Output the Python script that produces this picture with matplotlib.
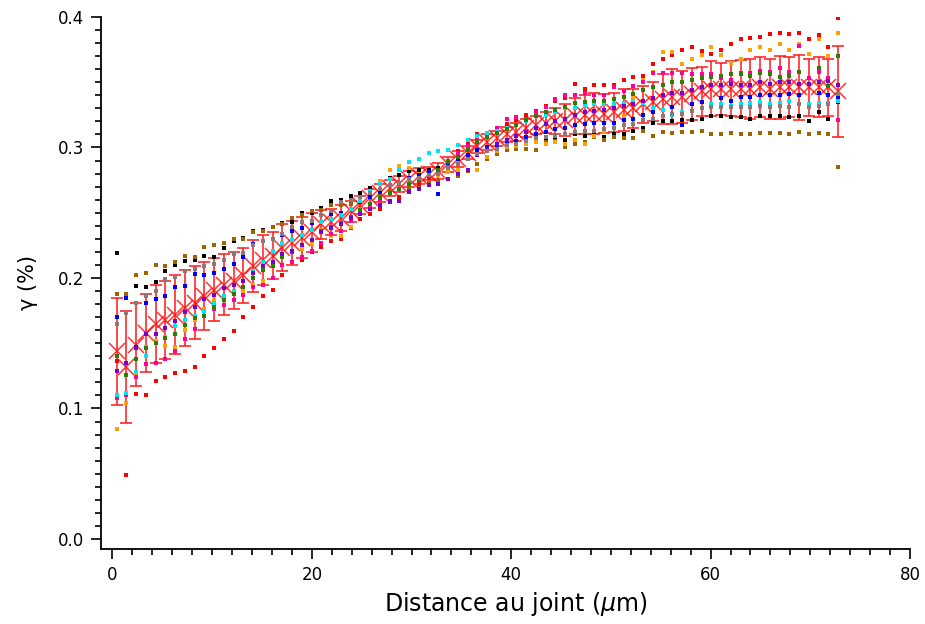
import numpy as np
import matplotlib
matplotlib.use("Agg")
import matplotlib.pyplot as plt
from matplotlib.ticker import MultipleLocator

# distance grid (um), one point per profile step
x = np.linspace(0.42, 72.8, 75)

# mean profile and its standard deviation
mean = [0.144, 0.132, 0.149, 0.158, 0.165, 0.168, 0.172, 0.177, 0.181, 0.186,
        0.191, 0.195, 0.198, 0.202, 0.209, 0.214, 0.217, 0.223, 0.227, 0.231,
        0.235, 0.241, 0.243, 0.246, 0.251, 0.256, 0.261, 0.265, 0.269, 0.272,
        0.276, 0.278, 0.280, 0.282, 0.287, 0.291, 0.296, 0.301, 0.304, 0.307,
        0.310, 0.312, 0.315, 0.317, 0.319, 0.320, 0.321, 0.324, 0.325, 0.326,
        0.326, 0.327, 0.329, 0.330, 0.333, 0.335, 0.337, 0.339, 0.339, 0.341,
        0.343, 0.345, 0.345, 0.345, 0.345, 0.345, 0.346, 0.345, 0.346, 0.346,
        0.346, 0.346, 0.346, 0.346, 0.343]
std = [0.041, 0.043, 0.032, 0.030, 0.030, 0.030, 0.030, 0.029, 0.028, 0.026,
       0.024, 0.023, 0.022, 0.021, 0.020, 0.019, 0.018, 0.018, 0.017, 0.016,
       0.015, 0.011, 0.010, 0.010, 0.008, 0.007, 0.007, 0.007, 0.006, 0.006,
       0.006, 0.006, 0.005, 0.006, 0.006, 0.006, 0.005, 0.005, 0.006, 0.006,
       0.006, 0.007, 0.007, 0.007, 0.008, 0.010, 0.012, 0.014, 0.015, 0.016,
       0.015, 0.015, 0.016, 0.015, 0.014, 0.015, 0.019, 0.021, 0.020, 0.020,
       0.019, 0.021, 0.020, 0.021, 0.022, 0.023, 0.023, 0.023, 0.024, 0.023,
       0.025, 0.022, 0.023, 0.022, 0.035]

# individual profiles
p_black = [0.219, 0.135, 0.194, 0.193, 0.197, 0.205, 0.210, 0.213, 0.214, 0.217,
           0.216, 0.223, 0.228, 0.231, 0.236, 0.237, 0.239, 0.242, 0.243, 0.250,
           0.250, 0.254, 0.259, 0.260, 0.263, 0.265, 0.269, 0.274, 0.277, 0.279,
           0.282, 0.283, 0.283, 0.284, 0.289, 0.292, 0.293, 0.297, 0.299, 0.301,
           0.302, 0.303, 0.305, 0.306, 0.307, 0.307, 0.306, 0.310, 0.309, 0.310,
           0.308, 0.310, 0.310, 0.313, 0.315, 0.319, 0.320, 0.320, 0.321, 0.321,
           0.322, 0.324, 0.324, 0.323, 0.323, 0.322, 0.324, 0.324, 0.324, 0.323,
           0.324, 0.320, 0.327, 0.322, 0.335]
p_brown = [0.188, 0.188, 0.202, 0.204, 0.210, 0.209, 0.212, 0.217, 0.216, 0.224,
           0.225, 0.227, 0.230, 0.230, 0.235, 0.236, 0.239, 0.241, 0.246, 0.248,
           0.251, 0.252, 0.256, 0.256, 0.257, 0.260, 0.262, 0.264, 0.266, 0.268,
           0.270, 0.271, 0.273, 0.274, 0.276, 0.278, 0.282, 0.287, 0.291, 0.295,
           0.298, 0.299, 0.299, 0.298, 0.304, 0.305, 0.300, 0.303, 0.304, 0.308,
           0.306, 0.308, 0.307, 0.307, 0.313, 0.309, 0.312, 0.311, 0.312, 0.312,
           0.313, 0.310, 0.310, 0.311, 0.310, 0.310, 0.311, 0.311, 0.311, 0.310,
           0.312, 0.310, 0.311, 0.310, 0.285]
p_red = [0.136, 0.049, 0.111, 0.110, 0.121, 0.124, 0.127, 0.129, 0.132, 0.140,
         0.146, 0.153, 0.159, 0.170, 0.178, 0.186, 0.191, 0.202, 0.212, 0.214,
         0.220, 0.224, 0.228, 0.230, 0.238, 0.245, 0.249, 0.253, 0.258, 0.262,
         0.267, 0.272, 0.277, 0.283, 0.290, 0.297, 0.303, 0.310, 0.310, 0.313,
         0.318, 0.321, 0.325, 0.328, 0.332, 0.336, 0.338, 0.349, 0.345, 0.348,
         0.348, 0.348, 0.352, 0.354, 0.355, 0.364, 0.368, 0.371, 0.375, 0.377,
         0.374, 0.372, 0.375, 0.379, 0.383, 0.384, 0.385, 0.387, 0.388, 0.387,
         0.388, 0.383, 0.386, 0.377, 0.399]
p_orange = [0.084, 0.104, 0.126, 0.147, 0.152, 0.148, 0.147, 0.160, 0.168, 0.176,
            0.183, 0.185, 0.188, 0.190, 0.195, 0.198, 0.200, 0.209, 0.220, 0.222,
            0.226, 0.237, 0.232, 0.232, 0.239, 0.252, 0.262, 0.274, 0.283, 0.286,
            0.284, 0.280, 0.279, 0.279, 0.281, 0.283, 0.283, 0.283, 0.293, 0.297,
            0.300, 0.301, 0.303, 0.304, 0.303, 0.304, 0.303, 0.306, 0.303, 0.309,
            0.312, 0.315, 0.324, 0.338, 0.352, 0.358, 0.373, 0.373, 0.364, 0.368,
            0.371, 0.377, 0.371, 0.365, 0.368, 0.375, 0.377, 0.375, 0.379, 0.375,
            0.379, 0.372, 0.383, 0.370, 0.388]
p_blue = [0.170, 0.185, 0.147, 0.181, 0.184, 0.186, 0.193, 0.194, 0.203, 0.202,
          0.204, 0.207, 0.211, 0.216, 0.226, 0.228, 0.230, 0.233, 0.236, 0.238,
          0.242, 0.248, 0.249, 0.250, 0.253, 0.258, 0.262, 0.266, 0.271, 0.273,
          0.277, 0.279, 0.281, 0.264, 0.288, 0.291, 0.294, 0.298, 0.300, 0.302,
          0.304, 0.305, 0.308, 0.310, 0.312, 0.314, 0.315, 0.317, 0.318, 0.319,
          0.319, 0.319, 0.321, 0.322, 0.325, 0.327, 0.329, 0.331, 0.317, 0.333,
          0.335, 0.333, 0.338, 0.336, 0.339, 0.339, 0.340, 0.340, 0.340, 0.341,
          0.340, 0.333, 0.342, 0.340, 0.339]
p_magenta = [0.108, 0.110, 0.124, 0.134, 0.135, 0.138, 0.144, 0.153, 0.161, 0.171,
             0.176, 0.179, 0.183, 0.187, 0.193, 0.195, 0.200, 0.210, 0.212, 0.216,
             0.221, 0.227, 0.234, 0.236, 0.244, 0.250, 0.256, 0.260, 0.265, 0.268,
             0.272, 0.275, 0.278, 0.281, 0.290, 0.296, 0.301, 0.307, 0.311, 0.315,
             0.322, 0.323, 0.322, 0.327, 0.331, 0.337, 0.340, 0.340, 0.342, 0.340,
             0.340, 0.346, 0.343, 0.347, 0.350, 0.357, 0.357, 0.357, 0.357, 0.356,
             0.356, 0.356, 0.353, 0.352, 0.357, 0.357, 0.359, 0.358, 0.361, 0.358,
             0.378, 0.353, 0.358, 0.353, 0.321]
p_cyan = [0.110, 0.112, 0.128, 0.140, 0.150, 0.155, 0.163, 0.168, 0.171, 0.175,
          0.181, 0.186, 0.190, 0.198, 0.205, 0.212, 0.221, 0.227, 0.229, 0.233,
          0.237, 0.243, 0.245, 0.248, 0.253, 0.259, 0.267, 0.272, 0.276, 0.283,
          0.289, 0.291, 0.296, 0.297, 0.298, 0.302, 0.306, 0.309, 0.311, 0.313,
          0.315, 0.317, 0.320, 0.324, 0.325, 0.327, 0.330, 0.330, 0.332, 0.333,
          0.333, 0.333, 0.334, 0.335, 0.334, 0.330, 0.329, 0.325, 0.327, 0.328,
          0.330, 0.333, 0.333, 0.332, 0.333, 0.334, 0.335, 0.333, 0.334, 0.336,
          0.333, 0.333, 0.334, 0.334, 0.336]
p_green = [0.140, 0.126, 0.138, 0.146, 0.150, 0.154, 0.157, 0.164, 0.169, 0.171,
           0.178, 0.183, 0.188, 0.193, 0.200, 0.206, 0.209, 0.216, 0.220, 0.225,
           0.229, 0.236, 0.239, 0.242, 0.247, 0.252, 0.257, 0.261, 0.265, 0.268,
           0.272, 0.275, 0.278, 0.283, 0.289, 0.293, 0.298, 0.304, 0.308, 0.311,
           0.314, 0.317, 0.321, 0.324, 0.327, 0.329, 0.331, 0.334, 0.335, 0.336,
           0.336, 0.337, 0.339, 0.341, 0.344, 0.346, 0.348, 0.350, 0.350, 0.352,
           0.353, 0.354, 0.355, 0.356, 0.356, 0.355, 0.357, 0.356, 0.354, 0.355,
           0.358, 0.349, 0.361, 0.347, 0.370]
p_purple = [0.129, 0.135, 0.146, 0.157, 0.157, 0.162, 0.167, 0.174, 0.178, 0.184,
            0.187, 0.192, 0.195, 0.198, 0.204, 0.209, 0.212, 0.218, 0.221, 0.225,
            0.229, 0.235, 0.238, 0.241, 0.246, 0.249, 0.253, 0.256, 0.259, 0.259,
            0.266, 0.268, 0.271, 0.272, 0.276, 0.280, 0.283, 0.294, 0.299, 0.303,
            0.306, 0.309, 0.312, 0.315, 0.318, 0.320, 0.322, 0.325, 0.327, 0.328,
            0.329, 0.330, 0.332, 0.333, 0.336, 0.338, 0.340, 0.342, 0.342, 0.344,
            0.346, 0.348, 0.348, 0.349, 0.348, 0.348, 0.350, 0.349, 0.350, 0.350,
            0.349, 0.349, 0.350, 0.351, 0.348]
p_grey = [0.165, 0.173, 0.181, 0.186, 0.190, 0.199, 0.201, 0.205, 0.207, 0.209,
          0.211, 0.214, 0.218, 0.219, 0.225, 0.228, 0.230, 0.234, 0.239, 0.243,
          0.244, 0.248, 0.251, 0.258, 0.260, 0.262, 0.265, 0.268, 0.271, 0.273,
          0.276, 0.277, 0.279, 0.280, 0.284, 0.287, 0.291, 0.295, 0.297, 0.299,
          0.302, 0.303, 0.305, 0.307, 0.308, 0.309, 0.310, 0.312, 0.313, 0.313,
          0.314, 0.315, 0.317, 0.318, 0.321, 0.322, 0.324, 0.326, 0.326, 0.328,
          0.330, 0.331, 0.331, 0.331, 0.331, 0.331, 0.332, 0.331, 0.332, 0.331,
          0.333, 0.331, 0.332, 0.333, 0.341]

profiles = [p_black, p_brown, p_red, p_orange, p_blue, p_magenta,
            p_cyan, p_green, p_purple, p_grey]
colors = ['#000000', '#9c6500', '#ff0000', '#ffa200', '#0000ff', '#ff0099',
          '#00e5ee', '#2e7d00', '#7a00cc', '#8c7878']

fig = plt.figure(figsize=(9.25, 6.24), dpi=100)
ax = fig.add_axes([101/925, 75/624, 809/925, 532/624])

# mean with error bars
ax.errorbar(x, mean, yerr=std, fmt='none', ecolor='#ff1a1a', elinewidth=1.4,
            capsize=4.5, capthick=1.4, alpha=0.8, zorder=2)
ax.plot(x, mean, 'x', color='#ff1010', ms=11, mew=1.1, alpha=0.85, zorder=3)

for p, c in zip(profiles, colors):
    ax.plot(x, p, 's', color=c, ms=2.3, mew=0, zorder=4)

ax.set_xlim(-1.15, 80)
ax.set_ylim(-0.0077, 0.4)

ax.xaxis.set_major_locator(MultipleLocator(20))
ax.xaxis.set_minor_locator(MultipleLocator(2))
ax.yaxis.set_major_locator(MultipleLocator(0.1))
ax.yaxis.set_minor_locator(MultipleLocator(0.01))
ax.yaxis.set_major_formatter(matplotlib.ticker.FormatStrFormatter('%.1f'))

for s in ['top', 'right']:
    ax.spines[s].set_visible(False)
for s in ['left', 'bottom']:
    ax.spines[s].set_linewidth(1.3)

ax.tick_params(which='major', length=7, width=1.2, labelsize=12, pad=5)
ax.tick_params(which='minor', length=4, width=1.2)

ax.set_xlabel(r'Distance au joint ($\mu$m)', fontsize=17)
ax.xaxis.set_label_coords(0.513, -0.078)
ax.set_ylabel('γ (%)', fontsize=15)
ax.yaxis.set_label_coords(-0.078, 0.5)

fig.savefig('out.png', dpi=100)
